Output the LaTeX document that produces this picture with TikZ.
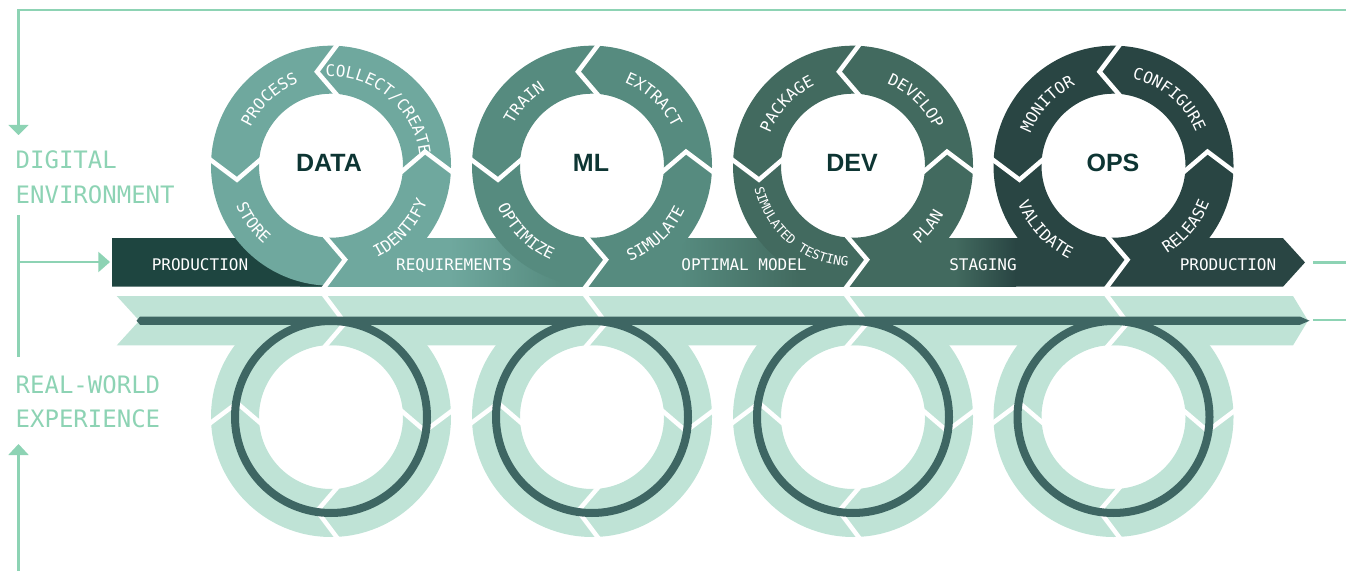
\documentclass[tikz,border=0pt]{standalone}
\usepackage{fontspec}
\usetikzlibrary{decorations.text}
\newfontfamily\monofam{DejaVu Sans Mono}
\newfontfamily\headfam{Liberation Sans}
\definecolor{cdata}{HTML}{6FA89E}
\definecolor{cml}{HTML}{568B7F}
\definecolor{cdev}{HTML}{426A5F}
\definecolor{cops}{HTML}{294543}
\definecolor{cprod}{HTML}{1E4540}
\definecolor{clight}{HTML}{BFE3D6}
\definecolor{cline}{HTML}{3E6663}
\definecolor{cgreen}{HTML}{8DD3B4}
\definecolor{ctitle}{HTML}{0D3533}
\tikzset{
  gline/.style={cgreen, line width=2.8pt},
  cutline/.style={white, line width=4.5pt, line join=miter},
  bandtxt/.style={font=\monofam\fontsize{16}{16}\selectfont, text=white, anchor=base, inner sep=0pt},
  sidetxt/.style={font=\monofam\fontsize{24}{24}\selectfont, text=cgreen, anchor=base west, inner sep=0pt},
  titletxt/.style={font=\headfam\bfseries\fontsize{25}{25}\selectfont, text=ctitle, anchor=base, inner sep=0pt},
}
\newcommand\labup[4]{%
  \path[decorate,decoration={text along path,text align=center,text color=white,
    text={|\monofam\fontsize{#3}{#3}\selectfont|#2}}]
    ({#1+55}:#4) arc[start angle={#1+55}, end angle={#1-55}, radius=#4];}
\newcommand\labdn[4]{%
  \path[decorate,decoration={text along path,text align=center,text color=white,
    text={|\monofam\fontsize{#3}{#3}\selectfont|#2}}]
    ({#1-55}:#4) arc[start angle={#1-55}, end angle={#1+55}, radius=#4];}
\newcommand\ringcuts{\foreach \r in {0,90,180,270}{\draw[cutline,rotate=\r] (-10,-66) -- (14,-94) -- (-10,-126);}}
\begin{document}
\begin{tikzpicture}[x=1pt,y=1pt]
\useasboundingbox (0,0) rectangle (1346,571);

% ---------- guide lines and side labels ----------
\coordinate (tl) at (18.5,561);
\coordinate (tr) at (1346,561);
\coordinate (ta) at (18.5,446);
\draw[gline] (ta) -- (tl) -- (tr);
\fill[cgreen] (8.3,446) -- (28.7,446) -- (18.5,436) -- cycle;

\node[sidetxt] (dig) at (15.5,402.5) {DIGITAL};
\node[sidetxt] (env) at (15.5,367.2) {ENVIRONMENT};

\coordinate (mv1) at (18.5,356);
\coordinate (mv2) at (18.5,213.7);
\coordinate (mb) at (18.5,309);
\coordinate (ma) at (99,309);
\draw[gline] (mv1) -- (mv2);
\draw[gline] (mb) -- (ma);
\fill[cgreen] (98.3,319.3) -- (110,309) -- (98.3,298.7) -- cycle;

\node[sidetxt] (real) at (15.5,177.7) {REAL-WORLD};
\node[sidetxt] (exp) at (15.5,143.3) {EXPERIENCE};

\coordinate (ba) at (18.5,116);
\coordinate (bb) at (18.5,0);
\draw[gline] (ba) -- (bb);
\fill[cgreen] (8.3,116) -- (28.7,116) -- (18.5,127) -- cycle;

\coordinate (r1a) at (1313,308.7);
\coordinate (r1b) at (1346,308.7);
\coordinate (r2a) at (1313,251);
\coordinate (r2b) at (1346,251);
\draw[gline] (r1a) -- (r1b);
\draw[gline] (r2a) -- (r2b);

% ---------- top band ----------
\fill[cdata] (300,284.3) rectangle (451,332.8);
\shade[left color=cdata, right color=cml] (450,284.3) rectangle (561,332.8);
\fill[cml] (560,284.3) rectangle (681,332.8);
\shade[left color=cml, right color=cdev] (680,284.3) rectangle (801,332.8);
\fill[cdev] (800,284.3) rectangle (956,332.8);
\shade[left color=cdev, right color=cops] (955,284.3) rectangle (1016,332.8);
\fill[cops] (1015,284.3) -- (1283,284.3) -- (1305,308.6) -- (1283,332.8) -- (1015,332.8) -- cycle;
\fill[cprod] (112,284.3) -- (112,332.8) -- (327,332.8) -- (345,311.3) -- (322,284.3) -- cycle;

% ---------- top rings ----------
\foreach \cx/\col in {331/cdata, 592/cml, 853/cdev, 1113.5/cops}{
  \fill[\col, even odd rule] (\cx,405.3) circle[radius=120] (\cx,405.3) circle[radius=72];
  \begin{scope}[shift={(\cx,405.3)}]\ringcuts\end{scope}
}

% ---------- band texts ----------
\node[bandtxt] (p1) at (200,300.5) {PRODUCTION};
\node[bandtxt] (req) at (454,300.5) {REQUIREMENTS};
\node[bandtxt] (opt) at (744,300.5) {OPTIMAL MODEL};
\node[bandtxt] (stg) at (983,300.5) {STAGING};
\node[bandtxt] (p2) at (1228,300.5) {PRODUCTION};

% ---------- ring titles ----------
\node[titletxt] (data) at (329,399.3) {DATA};
\node[titletxt] (ml) at (591,399.3) {ML};
\node[titletxt] (dev) at (852,399.3) {DEV};
\node[titletxt] (ops) at (1113,399.3) {OPS};

% ---------- ring labels ----------
\begin{scope}[shift={(331,405.3)}]
  \labup{133}{PROCESS}{16}{89}
  \labup{50}{COLLECT/CREATE}{16}{89}
  \labdn{216}{STORE}{16}{103}
  \labdn{318}{IDENTIFY}{16}{103}
\end{scope}
\begin{scope}[shift={(592,405.3)}]
  \labup{137}{TRAIN}{16}{89}
  \labup{47}{EXTRACT}{16}{89}
  \labdn{225}{OPTIMIZE}{16}{103}
  \labdn{313}{SIMULATE}{16}{103}
\end{scope}
\begin{scope}[shift={(853,405.3)}]
  \labup{137}{PACKAGE}{16}{89}
  \labup{46}{DEVELOP}{16}{89}
  \labdn{230}{SIMULATED TESTING}{12.8}{101}
  \labdn{321}{PLAN}{16}{103}
\end{scope}
\begin{scope}[shift={(1113.5,405.3)}]
  \labup{137}{MONITOR}{16}{89}
  \labup{50}{CONFIGURE}{16}{89}
  \labdn{223}{VALIDATE}{16}{103}
  \labdn{320}{RELEASE}{16}{103}
\end{scope}

% ---------- mirrored lower part ----------
\fill[clight] (116.7,275) -- (1293,275) -- (1308,250.3) -- (1293,225.6) -- (116.7,225.6) -- (139.3,250.3) -- cycle;
\foreach \cx in {331, 592, 853, 1113.5}{
  \fill[clight, even odd rule] (\cx,154) circle[radius=120] (\cx,154) circle[radius=72];
  \begin{scope}[shift={(\cx,154)}, yscale=-1]\ringcuts\end{scope}
}
\foreach \cx in {331, 592, 853, 1113.5}{
  \draw[cline, line width=8pt] (\cx,154) circle[radius=96];
}
\fill[cline] (140,254.4) -- (1300,254.4) -- (1309.5,250.3) -- (1300,246.2) -- (140,246.2) -- (136.5,250.3) -- cycle;
\end{tikzpicture}
\end{document}
